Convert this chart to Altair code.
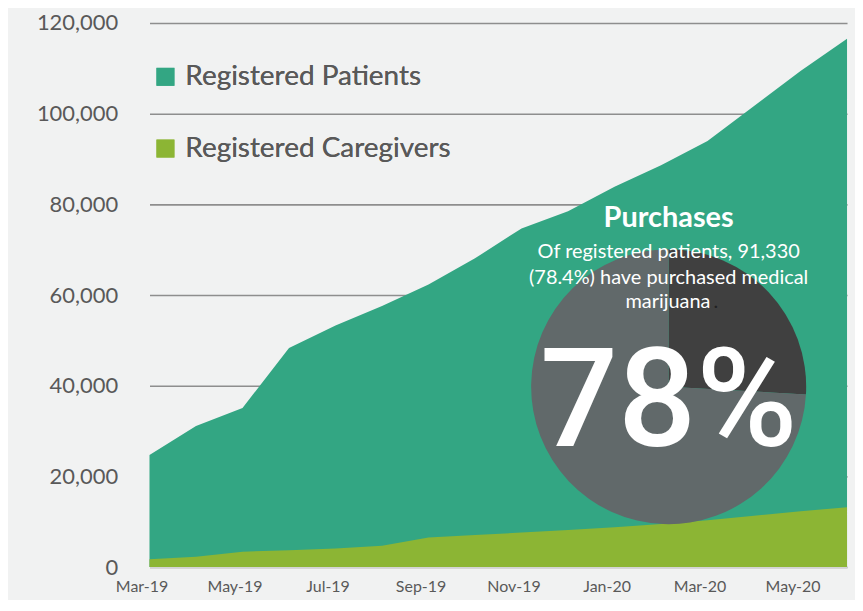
import altair as alt
import pandas as pd

months = ["Mar-19", "Apr-19", "May-19", "Jun-19", "Jul-19", "Aug-19", "Sep-19", "Oct-19",
          "Nov-19", "Dec-19", "Jan-20", "Feb-20", "Mar-20", "Apr-20", "May-20", "Jun-20"]
patients = [24700, 31100, 35100, 48300, 53300, 57600, 62300, 68100,
            74700, 78500, 83900, 88600, 94000, 101700, 109400, 116500]
caregivers = [1700, 2300, 3400, 3700, 4100, 4700, 6500, 7100,
              7600, 8200, 8800, 9500, 10300, 11300, 12300, 13200]
series_names = ["Registered Patients", "Registered Caregivers"]
series_colors = ["#33a683", "#8cb534"]
x_tick_labels = ["Mar-19", "May-19", "Jul-19", "Sep-19", "Nov-19", "Jan-20", "Mar-20", "May-20"]
y_ticks = [0, 20000, 40000, 60000, 80000, 100000, 120000]

pie_labels = ["Not purchased", "Purchased"]
pie_values = [25.9, 74.1]
pie_colors = ["#404040", "#61696a"]

title_text = "Purchases"
subtitle_lines = ["Of registered patients, 91,330", "(78.4%) have purchased medical", "marijuana"]
dot_text = "."
big_text = "78%"

TEXT_GREY = "#595959"
FONT = "Lato"

df = pd.DataFrame({
    "month": months * 2,
    "value": patients + caregivers,
    "series": [series_names[0]] * len(months) + [series_names[1]] * len(months),
})

pie_df = pd.DataFrame({
    "label": pie_labels,
    "value": pie_values,
    "color": pie_colors,
    "idx": list(range(len(pie_labels))),
})

one = pd.DataFrame({"k": [0]})

x_enc = alt.X(
    "month:O",
    sort=months,
    scale=alt.Scale(type="point", padding=0),
    axis=alt.Axis(
        values=x_tick_labels, labelAngle=0, title=None, ticks=False,
        domainColor="#d3d4d4", domainWidth=2,
        labelFont=FONT, labelFontSize=16, labelColor=TEXT_GREY,
        labelPadding=12, labelOffset=-8,
    ),
)
y_enc = alt.Y(
    "value:Q",
    scale=alt.Scale(domain=[0, 120000], nice=False),
    axis=alt.Axis(
        values=y_ticks, format=",.0f", title=None, domain=False, ticks=False,
        grid=True, gridColor="#8e8e8e", gridWidth=1.6,
        labelFont=FONT, labelFontSize=22, labelColor=TEXT_GREY, labelPadding=32,
    ),
)
color_enc = alt.Color(
    "series:N",
    scale=alt.Scale(domain=series_names, range=series_colors),
    legend=alt.Legend(
        orient="none", legendX=2, legendY=40, title=None,
        symbolType="square", symbolSize=324, symbolStrokeWidth=0, symbolOpacity=1,
        labelFont=FONT, labelFontSize=28, labelColor=TEXT_GREY, labelOffset=6,
        rowPadding=44, padding=0, labelLimit=400,
    ),
)

base = alt.Chart(df)
area_pat = base.transform_filter(alt.datum.series == series_names[0]).mark_area(opacity=1).encode(
    x=x_enc, y=y_enc, color=color_enc)
area_car = base.transform_filter(alt.datum.series == series_names[1]).mark_area(opacity=1).encode(
    x=x_enc, y=y_enc, color=color_enc)

CX = 521
pie = alt.Chart(pie_df).mark_arc(outerRadius=138).encode(
    theta=alt.Theta("value:Q", stack=True),
    color=alt.Color("color:N", scale=None),
    order=alt.Order("idx:Q"),
    x=alt.value(CX),
    y=alt.value(365),
)

title_layer = alt.Chart(one).mark_text(
    font=FONT, fontSize=29, fontWeight="bold", color="white", align="center", baseline="middle"
).encode(x=alt.value(CX), y=alt.value(196), text=alt.value(title_text))

sub_style = dict(font=FONT, fontSize=20, color="white", baseline="middle")
sub1 = alt.Chart(one).mark_text(align="center", **sub_style).encode(
    x=alt.value(CX), y=alt.value(230), text=alt.value(subtitle_lines[0]))
sub2 = alt.Chart(one).mark_text(align="center", **sub_style).encode(
    x=alt.value(CX), y=alt.value(256), text=alt.value(subtitle_lines[1]))
sub3 = alt.Chart(one).mark_text(align="right", **sub_style).encode(
    x=alt.value(563), y=alt.value(280.5), text=alt.value(subtitle_lines[2]))
dot = alt.Chart(one).mark_text(
    font=FONT, fontSize=20, color="#222222", align="left", baseline="middle"
).encode(x=alt.value(566), y=alt.value(280.5), text=alt.value(dot_text))

big = alt.Chart(one).mark_text(
    font="Roboto", fontSize=138, fontWeight=500, color="white", align="center", baseline="alphabetic"
).encode(x=alt.value(CX), y=alt.value(425), text=alt.value(big_text))

chart = alt.layer(
    area_pat, area_car, pie, title_layer, sub1, sub2, sub3, dot, big
).resolve_scale(color="independent").properties(
    width=700, height=546,
    autosize=alt.AutoSizeParams(type="none"),
    padding={"left": 142, "top": 14, "right": 8, "bottom": 32},
    background="#f1f2f2",
).configure_view(stroke=None)

chart.save("out.html", embed_options={"renderer": "svg", "actions": False})
